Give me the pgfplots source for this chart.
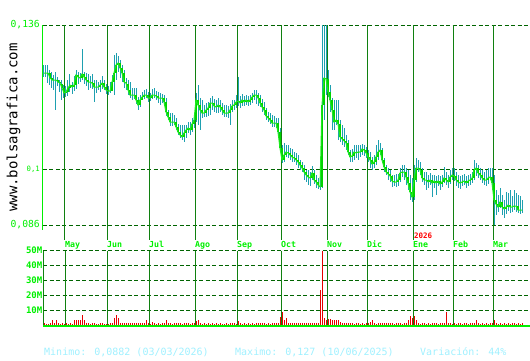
\documentclass[border=0pt]{standalone}
\usepackage{fontspec}
\setmainfont{DejaVu Sans Mono}
\newfontfamily\mono{DejaVu Sans Mono}
\usepackage{pgfplots}
\usepackage{pgfplotstable}
\pgfplotsset{compat=1.18}
\definecolor{bglime}{RGB}{0,240,0}
\definecolor{bgline}{RGB}{30,235,30}
\definecolor{bgbody}{RGB}{0,210,0}
\definecolor{bgwick}{RGB}{30,160,176}
\definecolor{bgdark}{RGB}{0,100,0}
\definecolor{bgmonth}{RGB}{16,128,16}
\definecolor{bgred}{RGB}{230,0,0}
\definecolor{bgcyan}{RGB}{160,240,255}
\pgfplotstableread{
i o h l c v
0 .124 .126 .123 .124 1.5
1 .124 .126 .123 .124 1.2
2 .12375 .126 .1215 .124 1.3
3 .124 .12475 .121 .12275 1.4
4 .12275 .12425 .12025 .12225 3.5
5 .12225 .1235 .11975 .12225 1.5
6 .12225 .12425 .11475 .12225 3.5
7 .12225 .123 .12075 .12175 1.5
8 .12175 .12225 .11925 .1215 1.2
9 .12125 .12225 .11725 .12025 1.5
10 .12025 .121 .11775 .119 1.3
11 .119 .12075 .118 .11925 1.5
12 .11925 .12225 .11825 .12025 1.2
13 .12025 .12375 .11925 .121 1.4
14 .121 .12175 .11875 .1205 1.3
15 .1205 .12325 .1195 .121 3.5
16 .121 .12475 .12 .1235 3.5
17 .1235 .12425 .12125 .123 3.5
18 .123 .124 .12175 .12275 3.5
19 .12275 .130 .12225 .12375 7
20 .12375 .12425 .12125 .123 3.5
21 .123 .124 .12075 .12225 2
22 .12225 .12375 .11975 .12175 1.5
23 .12175 .12325 .12025 .12175 1.3
24 .12175 .12375 .12 .1215 1.5
25 .1215 .12225 .11675 .1205 1.8
26 .1205 .12225 .119 .1205 1.3
27 .1205 .12175 .11975 .1205 1.2
28 .1205 .12225 .11925 .121 1.4
29 .121 .12325 .12 .1215 1.8
30 .1215 .12225 .11975 .1205 1.2
31 .1205 .12125 .11875 .11975 1.3
32 .11975 .12075 .1185 .1195 1.2
33 .1195 .12175 .119 .1195 1.5
34 .1195 .1235 .1195 .12175 1.8
35 .12175 .1285 .1185 .124 4.7
36 .124 .129 .12225 .126 6.7
37 .126 .12825 .12425 .1265 5
38 .1265 .12725 .12275 .12525 1.5
39 .12525 .126 .12175 .124 1.5
40 .124 .12475 .12025 .12175 2
41 .12175 .12275 .11975 .1215 1.5
42 .12125 .12225 .1185 .11975 1.8
43 .11975 .12175 .11775 .1185 1.5
44 .1185 .12025 .11725 .1185 1.5
45 .1185 .12025 .1175 .1185 2
46 .1185 .12025 .11625 .11725 1.5
47 .11725 .118 .11475 .116 2
48 .116 .1185 .1155 .11725 1.5
49 .11725 .11925 .11725 .118 1.5
50 .118 .11975 .1175 .1185 1.8
51 .1185 .12 .11775 .1185 3.5
52 .1185 .11925 .11675 .11775 1.5
53 .11775 .119 .117 .11775 1.2
54 .11775 .12 .1175 .1185 2.5
55 .1185 .12025 .11775 .1185 1.5
56 .1185 .1195 .11725 .11825 1.3
57 .11825 .11925 .1165 .11775 1.5
58 .11775 .119 .116 .11775 1.3
59 .11775 .11875 .1165 .11775 1.5
60 .11775 .1185 .11575 .11675 2
61 .11675 .11775 .11325 .11425 3.5
62 .11425 .11475 .11225 .113 1.5
63 .113 .114 .11075 .11175 1.5
64 .11175 .114 .11075 .11175 1.3
65 .11175 .1135 .111 .11175 1.5
66 .11175 .11275 .10975 .1105 1.5
67 .1105 .11125 .1085 .10925 1.8
68 .10925 .111 .10775 .1085 1.5
69 .1085 .111 .10725 .108 1.3
70 .108 .111 .10675 .109 1.5
71 .109 .111 .10775 .10975 1.8
72 .10975 .11175 .109 .11025 1.5
73 .11025 .11175 .1085 .10975 1.3
74 .10975 .11275 .10925 .11125 1.5
75 .11125 .1135 .11025 .11225 1.8
76 .11225 .119 .11175 .11725 3
77 .11725 .121 .111 .116 3.5
78 .116 .11775 .10975 .11475 1.5
79 .11475 .11725 .11275 .114 1.3
80 .114 .116 .113 .114 1.5
81 .114 .1165 .113 .11475 1.2
82 .11475 .11675 .11325 .11525 1.5
83 .11525 .11775 .1135 .1165 1.3
84 .1165 .11825 .11475 .1165 1.5
85 .1165 .1175 .11425 .11575 1.2
86 .11575 .11725 .114 .1155 1.5
87 .1155 .11775 .114 .116 1.3
88 .116 .11725 .11425 .1155 1.5
89 .1155 .1165 .1135 .11475 1.3
90 .11475 .116 .113 .114 1.2
91 .114 .116 .113 .114 1.5
92 .114 .11575 .11275 .114 1.3
93 .114 .11625 .111 .11475 1.5
94 .11475 .11725 .11425 .11575 1.8
95 .11575 .11725 .11475 .116 1.5
96 .116 .1185 .11525 .11675 1.3
97 .11675 .123 .11575 .117 3
98 .117 .11825 .11525 .1165 1.5
99 .1165 .11875 .11575 .11725 1.3
100 .11725 .11825 .11575 .11675 1.5
101 .11675 .1185 .116 .11725 1.2
102 .11725 .11825 .11575 .11675 1.5
103 .11675 .1185 .116 .11725 1.3
104 .11725 .119 .1165 .118 1.5
105 .118 .11975 .11725 .1185 1.3
106 .1185 .11975 .11625 .1185 1.5
107 .1185 .119 .11575 .11775 1.8
108 .11775 .1185 .1155 .1165 1.5
109 .1165 .1175 .11425 .1155 2
110 .1155 .11675 .1135 .11475 1.5
111 .11475 .11525 .11225 .11325 1.3
112 .11325 .11425 .11175 .11275 1.5
113 .11275 .114 .11125 .11225 1.3
114 .11225 .1135 .1105 .1115 1.5
115 .1115 .11325 .1105 .1115 1.5
116 .1115 .11275 .11025 .1115 1.8
117 .1115 .11275 .10825 .10925 1.8
118 .10925 .11025 .10425 .10525 5.5
119 .10525 .106 .1015 .10225 8.8
120 .10225 .1065 .10175 .1035 4
121 .1035 .106 .103 .10425 4.7
122 .10425 .106 .10275 .104 2
123 .104 .10525 .10225 .1035 1.8
124 .1035 .105 .10175 .103 1.5
125 .103 .10425 .10175 .10275 1.8
126 .10275 .104 .101 .10225 1.5
127 .10225 .1035 .10025 .10175 2
128 .10175 .10225 .09975 .101 1.5
129 .101 .10175 .09925 .10025 1.8
130 .10025 .101 .09725 .09925 2
131 .09925 .09975 .09675 .0985 1.8
132 .0985 .09975 .096 .098 1.5
133 .098 .09925 .09575 .09775 2
134 .09775 .10075 .09725 .099 1.8
135 .099 .09975 .09625 .09725 1.5
136 .09725 .0985 .09525 .09675 2
137 .09675 .09775 .095 .096 1.5
138 .0955 .10025 .09475 .0955 24
139 .0955 .136 .09525 .116 50
140 .116 .136 .11225 .12275 5
141 .12275 .136 .1185 .1225 4
142 .1225 .12475 .118 .11925 4.5
143 .11925 .121 .11425 .11725 4.5
144 .11725 .11775 .10975 .11475 4
145 .11475 .11725 .10975 .11175 3.5
146 .11175 .11725 .111 .11225 3.5
147 .11225 .11725 .10725 .11125 3.5
148 .11125 .11225 .10675 .108 2.5
149 .108 .111 .106 .1075 2
150 .1075 .11025 .1055 .107 1.8
151 .107 .1085 .10475 .1065 2
152 .1065 .10725 .1035 .10425 1.5
153 .10425 .10475 .10175 .103 1.8
154 .103 .105 .10175 .10325 1.5
155 .10325 .106 .10225 .10425 1.3
156 .10425 .106 .10275 .104 1.8
157 .104 .106 .10225 .10425 1.5
158 .10425 .106 .103 .10425 1.3
159 .10425 .10625 .1035 .105 1.5
160 .105 .106 .10325 .10475 1.3
161 .10475 .1055 .10275 .104 1.8
162 .104 .10475 .10175 .103 1.5
163 .103 .10425 .10025 .10225 2.5
164 .10225 .103 .09975 .10125 3.8
165 .10125 .1035 .10025 .10175 1.5
166 .10175 .106 .101 .103 1.3
167 .103 .10725 .10225 .10425 1.5
168 .10425 .1065 .1035 .10475 1.5
169 .10475 .10525 .1015 .10225 1.8
170 .10225 .10275 .09925 .1005 1.5
171 .1005 .101 .0985 .09925 1.5
172 .09925 .10025 .09725 .09875 1.5
173 .09875 .09975 .09675 .09825 1.8
174 .09825 .0985 .0955 .097 1.5
175 .097 .0985 .09575 .09675 1.3
176 .09675 .09875 .0955 .09675 1.5
177 .09675 .09875 .09575 .09725 2
178 .09725 .10025 .09675 .099 1.5
179 .099 .101 .098 .09925 1.3
180 .09925 .101 .09725 .09925 1.5
181 .09925 .10025 .096 .098 1.8
182 .098 .09975 .09475 .0965 3.5
183 .0965 .0985 .09225 .09425 6.5
184 .09425 .09775 .09175 .093 5
185 .093 .101 .09225 .09725 6.5
186 .09725 .10275 .09675 .10025 4
187 .10025 .10225 .09925 .10025 1.5
188 .10025 .10175 .0985 .09975 1.3
189 .09975 .10025 .09675 .09775 2
190 .09775 .09925 .096 .09725 1.5
191 .09725 .09925 .09475 .09725 1.3
192 .09725 .0985 .09525 .09675 1.5
193 .09675 .099 .096 .09725 1.3
194 .09725 .0985 .093 .0965 1.5
195 .0965 .0985 .09525 .097 1.8
196 .097 .09825 .0935 .0965 1.5
197 .0965 .0985 .09575 .097 1.3
198 .097 .09825 .09475 .09625 1.5
199 .09625 .0985 .0955 .09675 2
200 .09675 .1005 .0965 .09775 1.5
201 .09775 .09925 .096 .09725 8.7
202 .09725 .0985 .09525 .09675 2
203 .09675 .09975 .09625 .098 1.5
204 .098 .10025 .09725 .0985 1.3
205 .0985 .10025 .097 .09825 1.5
206 .09825 .09925 .09575 .09725 1.3
207 .09725 .0985 .09525 .09675 1.5
208 .09675 .09825 .095 .0965 1.5
209 .0965 .0985 .09575 .09675 1.3
210 .09675 .09875 .096 .097 1.5
211 .097 .09825 .09525 .0965 1.5
212 .0965 .0985 .09575 .097 1.3
213 .097 .09875 .096 .09725 1.5
214 .09725 .09925 .0965 .09775 1.8
215 .09775 .10225 .09725 .09975 1.5
216 .09975 .1015 .09825 .10025 4
217 .10025 .101 .09775 .099 1.5
218 .099 .10025 .09725 .0985 1.3
219 .0985 .09975 .0965 .09775 1.5
220 .09775 .09925 .096 .09725 1.3
221 .09725 .09975 .09575 .09725 1.5
222 .09725 .10025 .09625 .09775 1.3
223 .09775 .10025 .09725 .098 1.5
224 .098 .10025 .09475 .0965 1.8
225 .0965 .0985 .086 .09225 3.5
226 .09225 .09475 .0885 .09125 1.5
227 .09125 .0935 .08925 .0905 1.3
228 .0905 .09525 .09025 .09175 1.5
229 .09175 .0935 .0885 .0905 1.3
230 .0905 .09225 .08775 .09 1.5
231 .09 .09425 .08875 .0905 1.3
232 .0905 .094 .0895 .091 1.5
233 .091 .09475 .089 .0905 1.3
234 .0905 .09325 .08925 .0905 1.5
235 .0905 .09475 .08975 .09075 1.5
236 .09075 .094 .08925 .09075 1.3
237 .09075 .0935 .089 .08975 1.5
238 .08975 .09325 .08875 .08975 1.3
239 .08975 .09225 .089 .08975 1.5
}\data
\newcommand\mlab[2]{\node[anchor=base west, inner sep=0pt, text=bglime, font=\mono\bfseries\fontsize{8.3}{9}\selectfont] at ([yshift=-22.5pt]axis cs:#1,0.086) {#2};}
\begin{document}
\begin{tikzpicture}[x=1pt,y=1pt]
\useasboundingbox (0,0) rectangle (530,360);
% watermark
\node[rotate=90, inner sep=0pt, text=black, font=\mono\fontsize{14}{16}\selectfont] at (13.5,232.5) {www.bolsagrafica.com};
% price axis
\begin{axis}[
  at={(43pt,135pt)}, anchor=south west, scale only axis,
  width=485pt, height=200pt,
  xmin=-0.5, xmax=242, ymin=0.086, ymax=0.136, clip=false,
  axis line style={draw=none}, xtick=\empty,
  ytick={0.086,0.1,0.136},
  yticklabels={{\fontsize{9.7}{10}\selectfont 0,086},{\fontsize{7.3}{8}\selectfont 0,1},{\fontsize{9.7}{10}\selectfont 0,136}},
  yticklabel style={text=bglime, anchor=east, inner sep=0pt, xshift=-3pt},
  major tick length=0pt, tick style={draw=none},
]
\draw[bgdark, line width=1pt, dash pattern=on 4pt off 2.5pt] (axis cs:-0.5,0.136) -- (axis cs:242,0.136);
\draw[bgdark, line width=1pt, dash pattern=on 4pt off 2.5pt] (axis cs:-0.5,0.1) -- (axis cs:242,0.1);
\draw[bgdark, line width=1pt, dash pattern=on 4pt off 2.5pt] (axis cs:-0.5,0.086) -- (axis cs:242,0.086);
\pgfplotsinvokeforeach{10.5,31.5,52.5,75.5,96.5,118.5,141.5,161.5,184.5,204.5,224.5}{
  \draw[bgmonth, line width=1pt] (axis cs:#1,0.136) -- ([yshift=-15pt]axis cs:#1,0.086);
}
\draw[bglime, line width=1pt] (axis cs:-0.5,0.136) -- ([yshift=-5pt]axis cs:-0.5,0.086);
% wicks
\addplot[draw=none, no markers, forget plot,
  error bars/.cd, y dir=both, y explicit, error mark=none,
  error bar style={line width=1pt, draw=bgwick, solid}]
  table[x=i, y=c, y error plus expr=\thisrow{h}-\thisrow{c}, y error minus expr=\thisrow{c}-\thisrow{l}] {\data};
% bodies
\addplot[draw=none, no markers, forget plot,
  error bars/.cd, y dir=minus, y explicit, error mark=none,
  error bar style={line width=2pt, draw=bgbody, solid}]
  table[x=i, y expr={max(\thisrow{o},\thisrow{c})}, y error minus expr={abs(\thisrow{o}-\thisrow{c})}] {\data};
% close
\addplot[bgline, line width=1pt, no markers] table[x=i, y=c] {\data};
% month labels
\mlab{10.5}{May}
\mlab{31.5}{Jun}
\mlab{52.5}{Jul}
\mlab{75.5}{Ago}
\mlab{96.5}{Sep}
\mlab{118.5}{Oct}
\mlab{141.5}{Nov}
\mlab{161.5}{Dic}
\mlab{184.5}{Ene}
\mlab{204.5}{Feb}
\mlab{224.5}{Mar}
\node[anchor=base west, inner sep=0pt, text=red, font=\mono\bfseries\fontsize{7.5}{8}\selectfont] at ([xshift=1pt,yshift=-13.5pt]axis cs:184.5,0.086) {2026};
\end{axis}
% volume axis
\begin{axis}[
  at={(43pt,34.5pt)}, anchor=south west, scale only axis,
  width=485pt, height=75pt,
  xmin=-0.5, xmax=242, ymin=0, ymax=50, clip=false,
  axis line style={draw=none}, xtick=\empty,
  ytick={10,20,30,40,50},
  yticklabels={10M,20M,30M,40M,50M},
  yticklabel style={text=bglime, anchor=east, inner sep=0pt, xshift=-0.5pt, font=\mono\bfseries\fontsize{9}{10}\selectfont},
  major tick length=0pt, tick style={draw=none},
]
\pgfplotsinvokeforeach{10,20,30,40,50}{
  \draw[bgdark, line width=1pt, dash pattern=on 4pt off 2.5pt] (axis cs:-0.5,#1) -- (axis cs:242,#1);
}
\pgfplotsinvokeforeach{10.5,31.5,52.5,75.5,96.5,118.5,141.5,161.5,184.5,204.5,224.5}{
  \draw[bgmonth, line width=1pt] (axis cs:#1,50) -- (axis cs:#1,0);
}
\draw[bgmonth, line width=1pt] (axis cs:-0.5,50) -- (axis cs:-0.5,0);
\addplot[ycomb, bgred, line width=1pt, no markers] table[x=i, y=v] {\data};
\draw[bglime, line width=2pt] (axis cs:-0.5,0) -- ([xshift=2pt]axis cs:242,0);
\end{axis}
% statistics
\node[anchor=base west, inner sep=0pt, text=bgcyan, font=\mono\fontsize{10}{12}\selectfont] at (44,5) {Minimo: 0,0882 (03/03/2026)};
\node[anchor=base west, inner sep=0pt, text=bgcyan, font=\mono\fontsize{10}{12}\selectfont] at (235,5) {Maximo: 0,127 (10/06/2025)};
\node[anchor=base west, inner sep=0pt, text=bgcyan, font=\mono\fontsize{10}{12}\selectfont] at (420,5) {Variación: 44\%};
\end{tikzpicture}
\end{document}
